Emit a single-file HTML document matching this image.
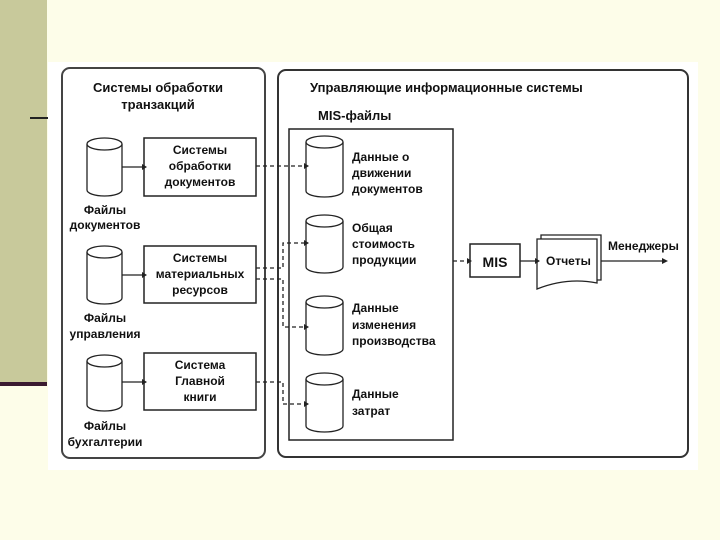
<!DOCTYPE html>
<html><head><meta charset="utf-8"><style>
body{margin:0;width:720px;height:540px;overflow:hidden;background:#fdfde9}
svg{display:block}
text{font-family:"Liberation Sans",sans-serif;font-weight:bold;fill:#111}
</style></head><body>
<svg width="720" height="540" viewBox="0 0 720 540">
<rect x="0" y="0" width="720" height="540" fill="#fdfde9"/>
<rect x="0" y="0" width="47" height="383" fill="#c8c99b"/>
<rect x="0" y="382" width="47" height="4" fill="#3a1a30"/>
<rect x="30" y="117" width="20" height="2" fill="#222"/>
<rect x="48" y="62" width="650" height="408" fill="#fff"/>
<g fill="none" stroke="#222" stroke-width="1.5">
<rect x="62" y="68" width="203" height="390" rx="8" stroke="#444" stroke-width="2"/>
<rect x="278" y="70" width="410" height="387" rx="8" stroke="#333" stroke-width="2"/>
<rect x="289" y="129" width="164" height="311"/>
<rect x="144" y="138" width="112" height="58"/>
<rect x="144" y="246" width="112" height="57"/>
<rect x="144" y="353" width="112" height="57"/>
<rect x="470" y="244" width="50" height="33"/>
</g>
<g fill="#fff" stroke="#222" stroke-width="1.3">
<path d="M87,144 v46 a17.5,6 0 0 0 35,0 v-46"/><ellipse cx="104.5" cy="144" rx="17.5" ry="6"/>
<path d="M87,252 v46 a17.5,6 0 0 0 35,0 v-46"/><ellipse cx="104.5" cy="252" rx="17.5" ry="6"/>
<path d="M87,361 v44 a17.5,6 0 0 0 35,0 v-44"/><ellipse cx="104.5" cy="361" rx="17.5" ry="6"/>
<path d="M306,142 v49 a18.5,6 0 0 0 37,0 v-49"/><ellipse cx="324.5" cy="142" rx="18.5" ry="6"/>
<path d="M306,221 v46 a18.5,6 0 0 0 37,0 v-46"/><ellipse cx="324.5" cy="221" rx="18.5" ry="6"/>
<path d="M306,302 v47 a18.5,6 0 0 0 37,0 v-47"/><ellipse cx="324.5" cy="302" rx="18.5" ry="6"/>
<path d="M306,379 v47 a18.5,6 0 0 0 37,0 v-47"/><ellipse cx="324.5" cy="379" rx="18.5" ry="6"/>
<path d="M541,235 h60 v45 h-60z"/>
<path d="M537,239 h60 v44 q-30,-6 -60,6z"/>
</g>
<g stroke="#222" stroke-width="1.3" fill="none">
<path d="M122,167 h20 M122,275 h20 M122,382 h20"/>
<path d="M520,261 h15 M601,261 h62"/>
</g>
<g stroke="#222" stroke-width="1.3" fill="none" stroke-dasharray="4,3">
<path d="M256,166 h48"/>
<path d="M256,268 h27 v-25 h21"/>
<path d="M256,279 h27 v48 h21"/>
<path d="M256,382 h27 v22 h21"/>
<path d="M453,261 h15"/>
</g>
<g fill="#222">
<path d="M304,163 l5,3 -5,3z M304,240 l5,3 -5,3z M304,324 l5,3 -5,3z M304,401 l5,3 -5,3z"/>
<path d="M142,164 l5,3 -5,3z M142,272 l5,3 -5,3z M142,379 l5,3 -5,3z"/>
<path d="M467,258 l5,3 -5,3z M535,258 l5,3 -5,3z M662,258 l6,3 -6,3z"/>
</g>
<g font-size="13" text-anchor="middle">
<text x="158" y="92">Системы обработки</text>
<text x="158" y="109">транзакций</text>
</g>
<g font-size="12" text-anchor="middle">
<text x="200" y="154">Системы</text><text x="200" y="170">обработки</text><text x="200" y="186">документов</text>
<text x="200" y="262">Системы</text><text x="200" y="278">материальных</text><text x="200" y="294">ресурсов</text>
<text x="200" y="369">Система</text><text x="200" y="385">Главной</text><text x="200" y="401">книги</text>
<text x="105" y="214">Файлы</text><text x="105" y="229">документов</text>
<text x="105" y="322">Файлы</text><text x="105" y="338">управления</text>
<text x="105" y="430">Файлы</text><text x="105" y="446">бухгалтерии</text>
</g>
<text x="310" y="92" font-size="13">Управляющие информационные системы</text>
<text x="318" y="120" font-size="13">MIS-файлы</text>
<g font-size="12">
<text x="352" y="161">Данные о</text><text x="352" y="177">движении</text><text x="352" y="193">документов</text>
<text x="352" y="232">Общая</text><text x="352" y="248">стоимость</text><text x="352" y="264">продукции</text>
<text x="352" y="312">Данные</text><text x="352" y="329">изменения</text><text x="352" y="345">производства</text>
<text x="352" y="398">Данные</text><text x="352" y="415">затрат</text>
<text x="546" y="265">Отчеты</text>
<text x="608" y="250">Менеджеры</text>
</g>
<text x="495" y="267" font-size="14" text-anchor="middle">MIS</text>
</svg>
</body></html>
